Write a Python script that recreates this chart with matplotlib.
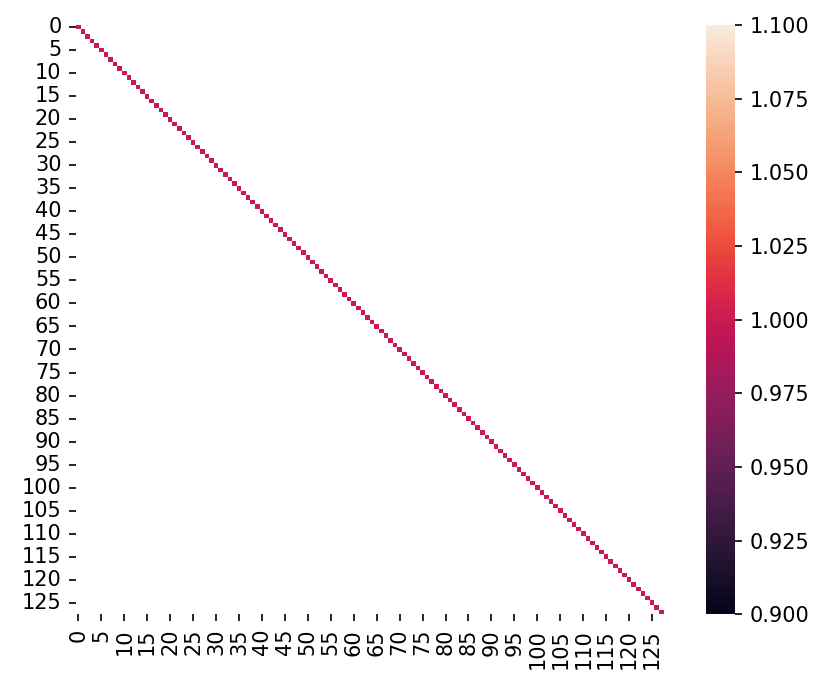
import numpy as np
import matplotlib
matplotlib.use("Agg")
import matplotlib.pyplot as plt
import seaborn as sns

# 128 x 128 matrix, only the diagonal has values (everything else masked / NaN)
n = 128
diag_values = [1.0] * n

data = np.full((n, n), np.nan)
data[np.arange(n), np.arange(n)] = diag_values

fig = plt.figure(figsize=(5.54, 4.607), dpi=150)
ax = fig.add_axes([0.0915, 0.111, 0.707, 0.853])
cax = fig.add_axes([0.8496, 0.111, 0.035, 0.853])

sns.heatmap(data, ax=ax, cbar_ax=cax, square=False)

ax.set_xticks(np.arange(0, n, 5) + 0.5)
ax.set_xticklabels([str(i) for i in range(0, n, 5)], rotation=90)
ax.set_yticks(np.arange(0, n, 5) + 0.5)
ax.set_yticklabels([str(i) for i in range(0, n, 5)], rotation=0)

cax.yaxis.set_major_formatter(matplotlib.ticker.FormatStrFormatter("%.3f"))

fig.savefig("out.png", dpi=150)
